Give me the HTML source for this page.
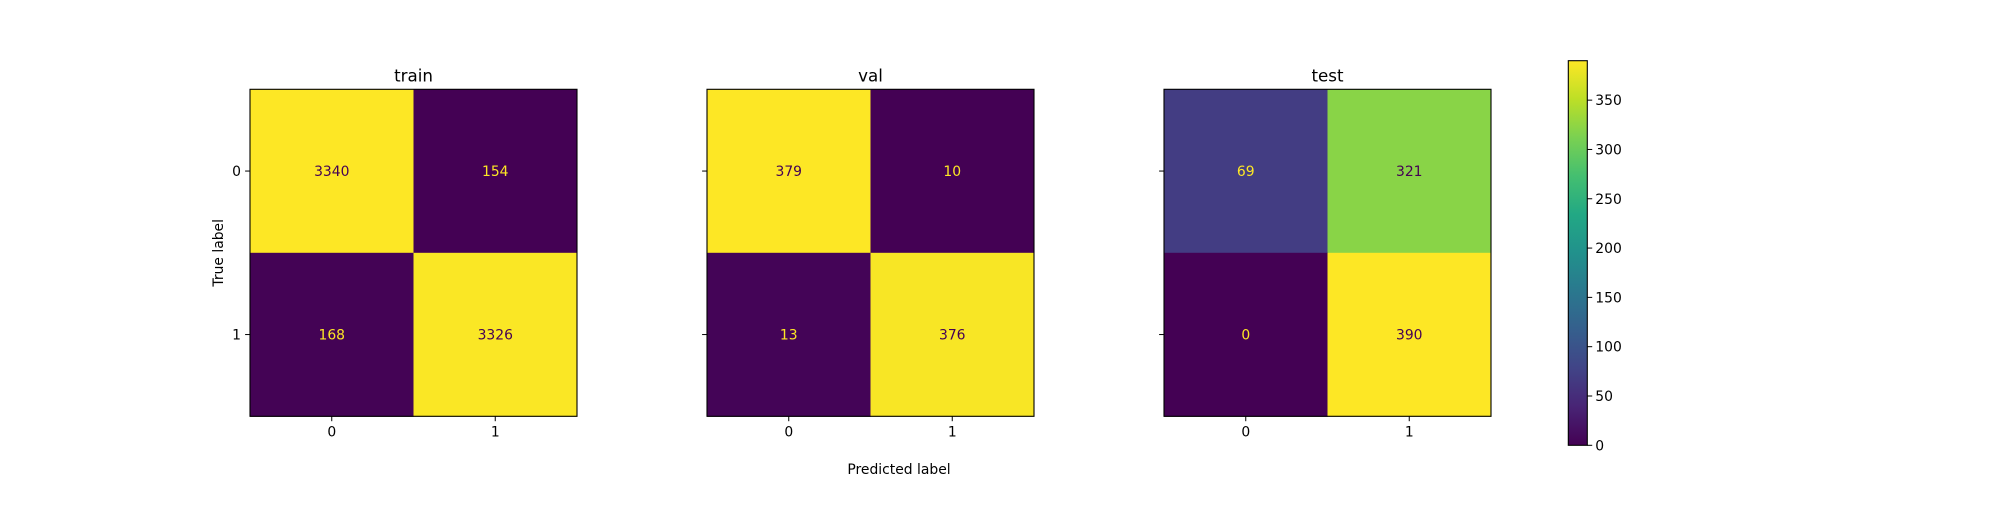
<!DOCTYPE html>
<html><head><meta charset="utf-8"><style>
html,body{margin:0;padding:0;background:#fff;}
svg text{font-family:"DejaVu Sans","Liberation Sans",sans-serif;}
</style></head><body>
<svg id="fig" width="2000" height="500" viewBox="0 0 2000 500" xmlns="http://www.w3.org/2000/svg">
<defs><linearGradient id="vir" x1="0" y1="1" x2="0" y2="0"></linearGradient></defs>
</svg>
<script>
const panelTitles = ["train","val","test"];
const trainValues = [[3340,154],[168,3326]];
const valValues = [[379,10],[13,376]];
const testValues = [[69,321],[0,390]];
const classLabels = ["0","1"];
const colorbarTicks = [0,50,100,150,200,250,300,350];

const NS="http://www.w3.org/2000/svg";
const svg=document.getElementById('fig');
const stops=["#440154","#482475","#414487","#355f8d","#2a788e","#21918c","#22a884","#44bf70","#7ad151","#bddf26","#fde725"];
function hex(h){return [1,3,5].map(i=>parseInt(h.substr(i,2),16));}
function viridis(t){t=Math.max(0,Math.min(1,t));const p=t*10;const i=Math.min(9,Math.floor(p));const f=p-i;
 const a=hex(stops[i]),b=hex(stops[i+1]);return 'rgb('+a.map((v,k)=>Math.round(v+(b[k]-v)*f)).join(',')+')';}
function el(tag,attrs,parent){const e=document.createElementNS(NS,tag);for(const k in attrs)e.setAttribute(k,attrs[k]);(parent||svg).appendChild(e);return e;}
const grad=document.getElementById('vir');
stops.forEach((c,i)=>el('stop',{offset:(i*10)+'%','stop-color':c},grad));

const panels=[trainValues,valValues,testValues];
const lefts=[250,707,1164];
const plotTop=89.3,size=327;
panels.forEach((vals,p)=>{
 const g=el('g',{});
 
 
 const flat=vals.flat();const mn=Math.min(...flat),mx=Math.max(...flat);
 const x0=lefts[p];const cs=size/classLabels.length;
 const cx=j=>x0+cs*(j+0.5), cy=i=>plotTop+cs*(i+0.5);
 vals.forEach((row,i)=>row.forEach((v,j)=>{
  const t=(v-mn)/(mx-mn);
  const r=el('rect',{x:x0+cs*j,y:plotTop+cs*i,width:cs+0.5,height:cs+0.5,fill:viridis(t)},g);
  
  
  const tx=el('text',{x:cx(j),y:cy(i)+5,'text-anchor':'middle','font-size':'13.9',fill:(v<(mx+mn)/2)?'#fde725':'#440154'},g);
  tx.textContent=v;
  
  
 }));
 const fr=el('rect',{x:x0,y:plotTop,width:size,height:size,fill:'none',stroke:'#000','stroke-width':1.1},g);
 
 
 const tt=el('text',{x:x0+size/2,y:81.5,'text-anchor':'middle','font-size':'16.7',fill:'#000'},g);
 tt.textContent=panelTitles[p];
 
 
 classLabels.forEach((lab,k)=>{
  el('line',{x1:cx(k),x2:cx(k),y1:plotTop+size,y2:plotTop+size+4.9,stroke:'#000','stroke-width':1},g);
  const xl=el('text',{x:cx(k),y:plotTop+size+20,'text-anchor':'middle','font-size':'13.9'},g);
  xl.textContent=lab;
  
  
  el('line',{x1:x0,x2:x0-4.9,y1:cy(k),y2:cy(k),stroke:'#000','stroke-width':1},g);
  if(p===0){
   const yl=el('text',{x:x0-9,y:cy(k)+5,'text-anchor':'end','font-size':'13.9'},g);
   yl.textContent=lab;
   
   
  }
 });
});
const yt=el('text',{x:223,y:252.8,'text-anchor':'middle','font-size':'13.9',transform:'rotate(-90 223 252.8)'});
yt.textContent='True label';


const xt=el('text',{x:899,y:474,'text-anchor':'middle','font-size':'13.9'});
xt.textContent='Predicted label';



const cbVals=testValues.flat();const cmin=Math.min(...cbVals),cmax=Math.max(...cbVals);
const cbL=1568.3,cbW=19,cbTop=60.7,cbBot=445.3;
const cbY=v=>cbBot-(v-cmin)/(cmax-cmin)*(cbBot-cbTop);
const cb=el('g',{});


el('rect',{x:cbL,y:cbTop,width:cbW,height:cbBot-cbTop,fill:'url(#vir)',stroke:'#000','stroke-width':1.1},cb);
colorbarTicks.forEach(v=>{
 const y=cbY(v);
 el('line',{x1:cbL+cbW,x2:cbL+cbW+4.9,y1:y,y2:y,stroke:'#000','stroke-width':1},cb);
 const t=el('text',{x:cbL+cbW+8,y:y+5,'font-size':'13.9'},cb);
 t.textContent=v;
 
 
});
</script>
</body></html>
